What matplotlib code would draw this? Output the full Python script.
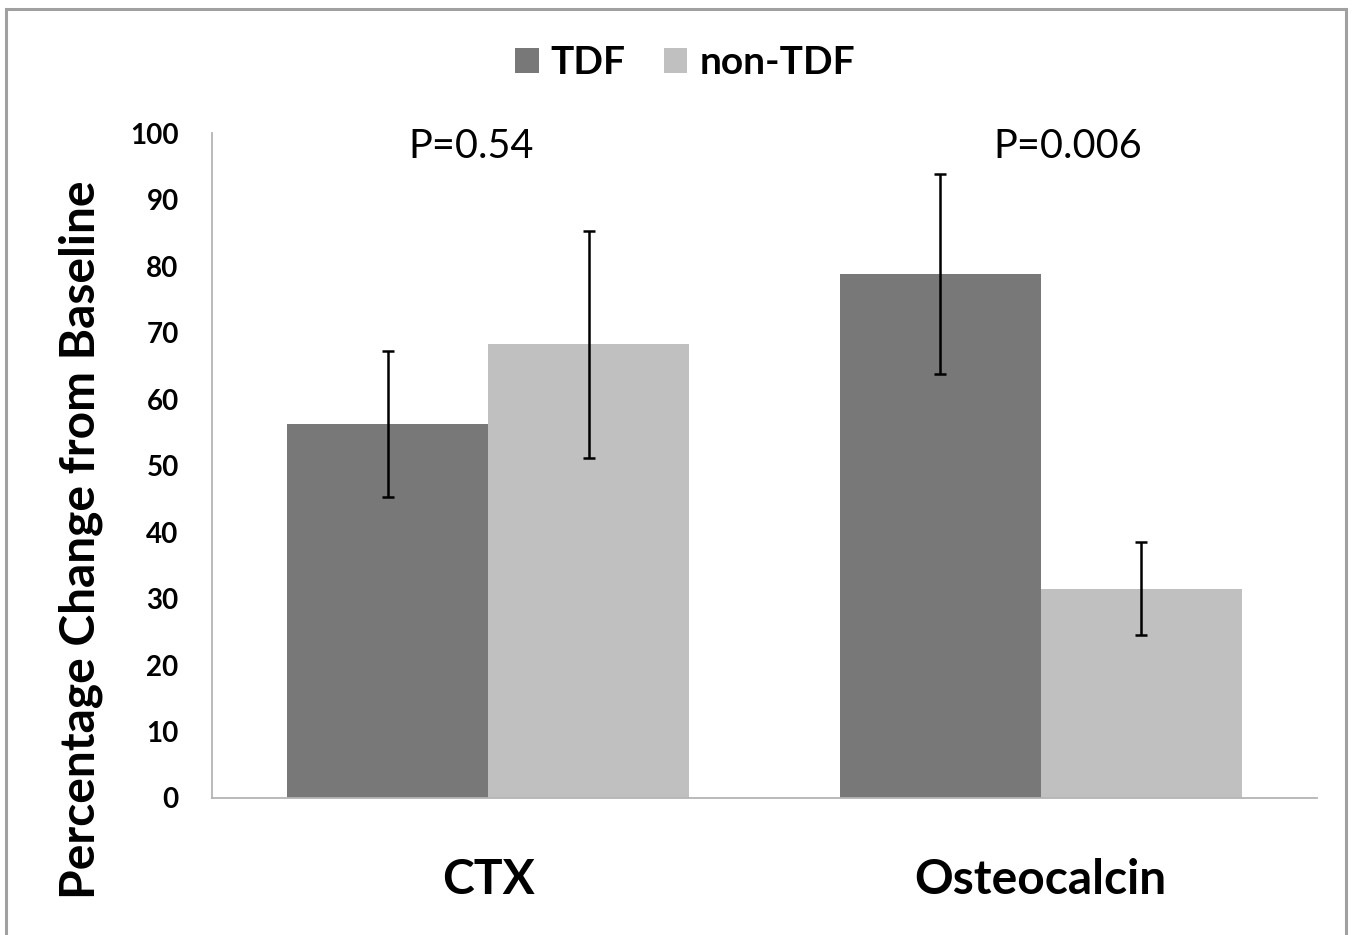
import matplotlib
matplotlib.use("Agg")
import matplotlib.pyplot as plt
import numpy as np
from matplotlib.patches import Rectangle

categories = ["CTX", "Osteocalcin"]
series_names = ["TDF", "non-TDF"]
tdf_values = [56.2, 78.8]
tdf_errors = [11.0, 15.0]
non_tdf_values = [68.2, 31.5]
non_tdf_errors = [17.0, 7.0]
p_labels = ["P=0.54", "P=0.006"]
y_ticks = [0, 10, 20, 30, 40, 50, 60, 70, 80, 90, 100]

FONT = ["Lato", "DejaVu Sans"]
plt.rcParams["font.family"] = FONT

W, H = 1352, 935
fig = plt.figure(figsize=(W / 100, H / 100), dpi=100)
ax = fig.add_axes([212 / W, 1 - 798 / H, (1317 - 212) / W, (798 - 133) / H])

x = np.arange(len(categories))
bw = 0.364
dark = "#787878"
light = "#c0c0c0"
ekw = dict(elinewidth=1.8, capthick=1.8, ecolor="black")
b1 = ax.bar(x - bw / 2, tdf_values, bw, color=dark, yerr=tdf_errors,
            capsize=4.3, error_kw=ekw, label=series_names[0], zorder=2)
b2 = ax.bar(x + bw / 2, non_tdf_values, bw, color=light, yerr=non_tdf_errors,
            capsize=4.3, error_kw=ekw, label=series_names[1], zorder=2)

ax.set_xlim(-0.5, 1.5)
ax.set_ylim(0, 100)
ax.set_yticks(y_ticks)
ax.set_yticklabels([str(t) for t in y_ticks], fontsize=20, fontweight="bold")
ax.tick_params(axis="y", length=0, pad=24)
ax.set_xticks(x)
ax.set_xticklabels(categories, fontsize=34.5, fontweight="bold")
ax.tick_params(axis="x", length=0, pad=43)

for s in ["top", "right"]:
    ax.spines[s].set_visible(False)
for s in ["left", "bottom"]:
    ax.spines[s].set_color("#b4b4b4")
    ax.spines[s].set_linewidth(1.3)

# P-value annotations
p_x = [x[0] - 0.031, x[1] + 0.048]
for px, lab in zip(p_x, p_labels):
    ax.text(px, 98, lab, ha="center", va="center", fontsize=28.5)

fig.text(81 / W, 1 - 540 / H, "Percentage Change from Baseline", rotation=90,
         ha="center", va="center", fontsize=34.5, fontweight="bold")

leg = fig.legend(handles=[b1, b2], labels=series_names, loc="center",
                 bbox_to_anchor=(685 / W, 1 - 63 / H), ncol=2, frameon=False,
                 prop=dict(family=FONT, size=28, weight="bold"),
                 handlelength=0.6, handleheight=0.6, handletextpad=0.3,
                 columnspacing=1.0)

fig.patches.append(Rectangle((6 / W, -0.02), (1346 - 6) / W, 1.02 - 9 / H,
                             transform=fig.transFigure, fill=False,
                             edgecolor="#a0a0a0", linewidth=2.2))

fig.savefig("out.png", dpi=100)
